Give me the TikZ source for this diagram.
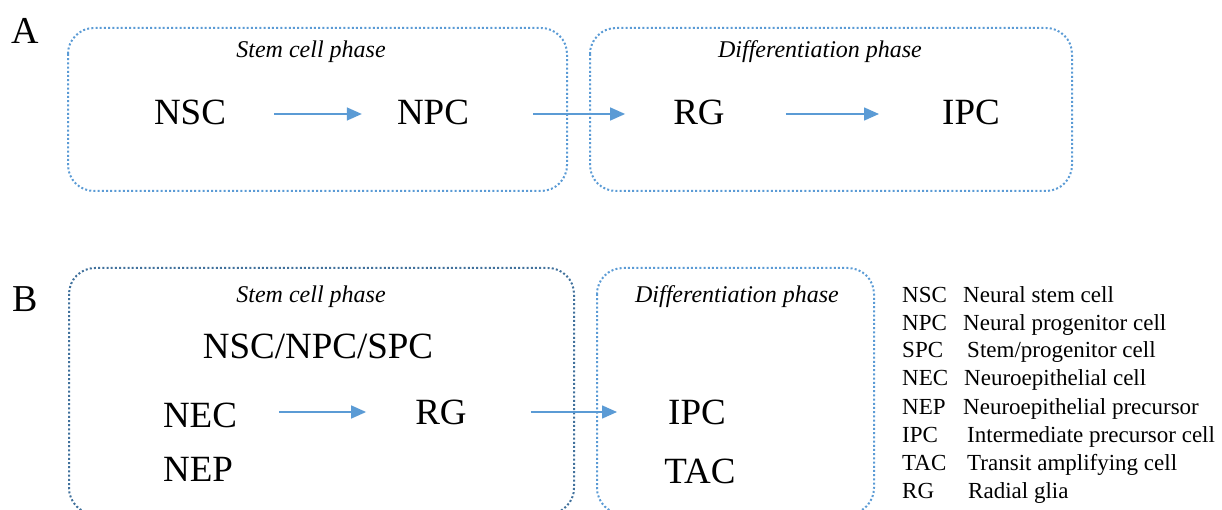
\documentclass[tikz,border=0pt]{standalone}
\usepackage{fontspec}
\setmainfont{Liberation Serif}
\usetikzlibrary{arrows.meta}
\definecolor{lblue}{HTML}{5B9BD5}
\definecolor{dblue}{HTML}{41719C}
\begin{document}
\begin{tikzpicture}[x=1pt,y=-1pt,
  phasebox/.style={draw=lblue, line width=2pt, dash pattern=on 2pt off 2.2pt, rounded corners=26pt},
  cell/.style={inner sep=0pt, font=\fontsize{37}{40}\selectfont},
  phaselabel/.style={inner sep=0pt, font=\fontsize{24}{26}\selectfont\itshape},
  panel/.style={inner sep=0pt, font=\fontsize{38}{40}\selectfont},
  legab/.style={inner sep=0pt, anchor=base west, font=\fontsize{23}{25}\selectfont},
  flow/.style={draw=lblue, line width=1.5pt, -{Triangle[length=15pt,width=13pt]}}]
\useasboundingbox (0,0) rectangle (1222,510);
\clip (0,0) rectangle (1222,510);
% panel labels
\node[panel] (lA) at (25,31) {A};
\node[panel] (lB) at (25,299) {B};
% Panel A boxes
\draw[phasebox] (68,28) rectangle (567,191);
\draw[phasebox] (590,28) rectangle (1072,191);
\node[phaselabel] (a1) at (311,52) {Stem cell phase};
\node[phaselabel] (a2) at (820,52) {Differentiation phase};
\node[cell] (aNSC) at (190,112) {NSC};
\node[cell] (aNPC) at (433,112) {NPC};
\node[cell] (aRG) at (699,112) {RG};
\node[cell] (aIPC) at (971,112) {IPC};
\draw[flow] ([xshift=48pt,yshift=-2pt]aNSC.east) -- ([xshift=-35pt,yshift=-2pt]aNPC.west);
\draw[flow] ([xshift=64pt,yshift=-2pt]aNPC.east) -- ([xshift=-48pt,yshift=-2pt]aRG.west);
\draw[flow] ([xshift=61pt,yshift=-2pt]aRG.east) -- ([xshift=-63pt,yshift=-2pt]aIPC.west);
% Panel B boxes
\draw[phasebox, draw=dblue] (69,268) rectangle (574,514);
\draw[phasebox] (597,268) rectangle (874,514);
\node[phaselabel] (b1) at (311,297) {Stem cell phase};
\node[phaselabel] (b2) at (737,297) {Differentiation phase};
\node[cell] (bNSC) at (318,346) {NSC/NPC/SPC};
\node[cell] (bNEC) at (200,415) {NEC};
\node[cell] (bRG) at (441,412) {RG};
\node[cell] (bNEP) at (198,469) {NEP};
\node[cell] (bIPC) at (697,412) {IPC};
\node[cell] (bTAC) at (700,471) {TAC};
\draw[flow] ([xshift=42pt]bNEC.east |- bRG.east) -- ([xshift=-49pt]bRG.west);
\draw[flow] ([xshift=64pt]bRG.east) -- ([xshift=-51pt]bIPC.west);
% legend
\foreach \ab/\abx/\de/\dex/\yy/\nm in {
  NSC/902/Neural stem cell/963/302/l1,
  NPC/902/Neural progenitor cell/963/330/l2,
  SPC/902/Stem\slash progenitor cell/967/357/l3,
  NEC/902/Neuroepithelial cell/964/385/l4,
  NEP/902/Neuroepithelial precursor/963/414/l5,
  IPC/902/Intermediate precursor cell/967/442/l6,
  TAC/902/Transit amplifying cell/967/470/l7,
  RG/902/Radial glia/968/498/l8}{
  \node[legab] (\nm a) at (\abx,\yy) {\ab};
  \node[legab] (\nm d) at (\dex,\yy) {\de};
}
\end{tikzpicture}
\end{document}
